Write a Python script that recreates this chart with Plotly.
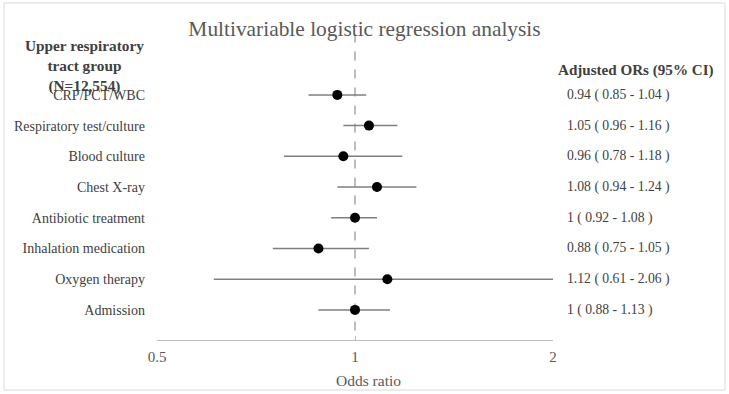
import plotly.graph_objects as go

categories = ["CRP/PCT/WBC", "Respiratory test/culture", "Blood culture", "Chest X-ray",
              "Antibiotic treatment", "Inhalation medication", "Oxygen therapy", "Admission"]
odds = [0.94, 1.05, 0.96, 1.08, 1, 0.88, 1.12, 1]
lower = [0.85, 0.96, 0.78, 0.94, 0.92, 0.75, 0.61, 0.88]
upper = [1.04, 1.16, 1.18, 1.24, 1.08, 1.05, 2.06, 1.13]
or_labels = ["0.94 ( 0.85 - 1.04 )", "1.05 ( 0.96 - 1.16 )", "0.96 ( 0.78 - 1.18 )",
             "1.08 ( 0.94 - 1.24 )", "1 ( 0.92 - 1.08 )", "0.88 ( 0.75 - 1.05 )",
             "1.12 ( 0.61 - 2.06 )", "1 ( 0.88 - 1.13 )"]
x_ticks = [0.5, 1, 2]
x_tick_text = ["0.5", "1", "2"]

ypos = list(range(len(categories)))
SERIF = "Liberation Serif, Times New Roman, serif"

fig = go.Figure()

# reference line at OR = 1
fig.add_trace(go.Scatter(x=[1, 1], y=[-2, 8], mode="lines",
                         line=dict(color="#a6a6a6", width=1.5, dash="dash"),
                         hoverinfo="skip", showlegend=False))

# CI lines
xs, ys = [], []
for lo, hi, y in zip(lower, upper, ypos):
    xs += [lo, hi, None]
    ys += [y, y, None]
fig.add_trace(go.Scatter(x=xs, y=ys, mode="lines",
                         line=dict(color="#7f7f7f", width=1.5),
                         hoverinfo="skip", showlegend=False))

# point estimates
fig.add_trace(go.Scatter(x=odds, y=ypos, mode="markers",
                         marker=dict(color="black", size=10),
                         showlegend=False))

L, R, T, B = 157, 553, 35, 340
W, H = 729, 394
pw, ph = R - L, B - T

def px_x(p):
    return (p - L) / pw

def px_y(p):
    return (B - p) / ph

annotations = []
for y, txt in zip(ypos, or_labels):
    annotations.append(dict(x=px_x(565), y=y, xref="paper", yref="y", text=txt,
                            showarrow=False, xanchor="left", yanchor="middle",
                            font=dict(family=SERIF, size=13.7, color="#404040")))
annotations.append(dict(x=px_x(84), y=px_y(66), xref="paper", yref="paper",
                        text="<b>Upper respiratory<br>tract group<br>(N=12,554)</b>",
                        showarrow=False, xanchor="center", yanchor="middle", align="center",
                        font=dict(family=SERIF, size=15.3, color="#404040")))
annotations.append(dict(x=px_x(556), y=px_y(70), xref="paper", yref="paper",
                        text="<b>Adjusted ORs (95% CI)</b>",
                        showarrow=False, xanchor="left", yanchor="middle",
                        font=dict(family=SERIF, size=15.1, color="#404040")))
annotations.append(dict(x=px_x(368), y=px_y(380), xref="paper", yref="paper",
                        text="Odds ratio", showarrow=False, xanchor="center", yanchor="middle",
                        font=dict(family=SERIF, size=15.5, color="#595959")))

fig.update_layout(
    width=W, height=H,
    margin=dict(l=L, r=W - R, t=T, b=H - B),
    paper_bgcolor="white", plot_bgcolor="white",
    title=dict(text="Multivariable logistic regression analysis", x=0.5, xref="container",
               xanchor="center", y=1 - 29 / H, yanchor="middle",
               font=dict(family=SERIF, size=21.4, color="#595959")),
    xaxis=dict(type="log", range=[-0.30103, 0.30103], tickvals=x_ticks, ticktext=x_tick_text,
               automargin=False,
               showgrid=False, zeroline=False, showline=True, linecolor="#bfbfbf", linewidth=1,
               ticks="inside", ticklen=4, tickcolor="#bfbfbf", ticklabelstandoff=3,
               tickfont=dict(family=SERIF, size=15, color="#595959")),
    yaxis=dict(range=[7.98, -1.95], tickvals=ypos, ticktext=categories, automargin=False,
               showgrid=False, zeroline=False, showline=False, ticks="",
               ticklabelstandoff=11,
               tickfont=dict(family=SERIF, size=14, color="#404040")),
    annotations=annotations,
    shapes=[dict(type="rect", xref="paper", yref="paper",
                 x0=px_x(4), x1=px_x(725), y0=px_y(390), y1=px_y(3),
                 line=dict(color="#d9d9d9", width=1), fillcolor="rgba(0,0,0,0)")],
)

fig.write_html("out.html", config={"displayModeBar": False},
               post_script="document.body.style.margin='0';")
